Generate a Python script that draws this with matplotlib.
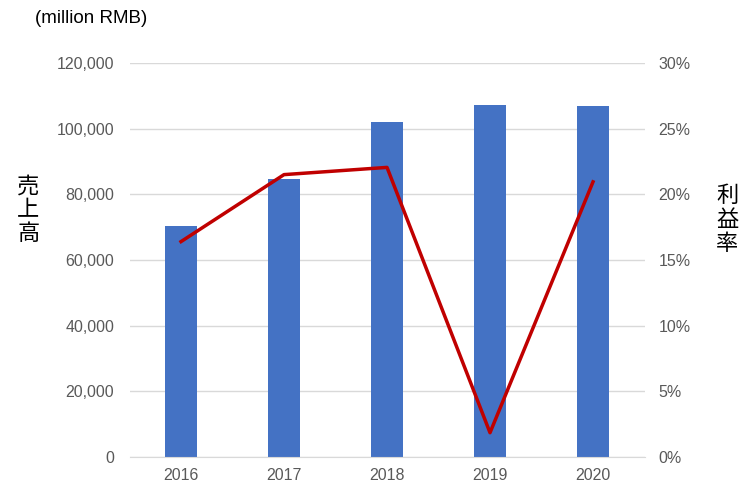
import numpy as np
import matplotlib
matplotlib.use('Agg')
import matplotlib.pyplot as plt
from matplotlib.ticker import FuncFormatter

plt.rcParams['font.family'] = ['Liberation Sans', 'Noto Sans CJK JP', 'DejaVu Sans']

years = ['2016', '2017', '2018', '2019', '2020']
sales = [70400, 84700, 102000, 107200, 106900]      # million RMB
margin = [16.4, 21.5, 22.05, 1.85, 20.95]           # %

C_BAR = '#4472C4'
C_LINE = '#C00000'
C_GRID = '#D9D9D9'
C_TICK = '#595959'

fig = plt.figure(figsize=(7.49, 4.94), dpi=100)
ax = fig.add_axes([0.1729, 0.0749, 0.6876, 0.7976])
x = np.arange(len(years))
ax.bar(x, sales, width=0.31, color=C_BAR, zorder=2)
ax.set_xlim(-0.5, len(years) - 0.5)
ax.set_ylim(0, 120000)
ax.set_yticks(np.arange(0, 120001, 20000))
ax.yaxis.set_major_formatter(FuncFormatter(lambda v, p: f'{int(v):,}'))
ax.set_xticks(x)
ax.set_xticklabels(years)
ax.grid(axis='y', color=C_GRID, lw=1, zorder=0)
ax.set_axisbelow(True)
for s in ['top', 'right', 'left']:
    ax.spines[s].set_visible(False)
ax.spines['bottom'].set_color(C_GRID)
ax.tick_params(axis='both', length=0, colors=C_TICK, labelsize=11.5)
ax.tick_params(axis='y', pad=11)
ax.tick_params(axis='x', pad=8)

ax2 = ax.twinx()
ax2.plot(x, margin, color=C_LINE, lw=2.5, zorder=3)
ax2.set_ylim(0, 30)
ax2.set_yticks(np.arange(0, 31, 5))
ax2.yaxis.set_major_formatter(FuncFormatter(lambda v, p: f'{int(v)}%'))
for s in ax2.spines.values():
    s.set_visible(False)
ax2.tick_params(axis='y', length=0, colors=C_TICK, labelsize=11.5, pad=10)

fig.text(0.047, 0.962, '(million RMB)', fontsize=13.5, color='black', ha='left', va='center')
fig.text(0.038, 0.575, '売\n上\n高', fontsize=16, color='black', ha='center', va='center',
         linespacing=1.05, family=['Noto Sans CJK JP', 'DejaVu Sans'])
fig.text(0.971, 0.555, '利\n益\n率', fontsize=16, color='black', ha='center', va='center',
         linespacing=1.05, family=['Noto Sans CJK JP', 'DejaVu Sans'])

fig.savefig('out.png', dpi=100, facecolor='white')
